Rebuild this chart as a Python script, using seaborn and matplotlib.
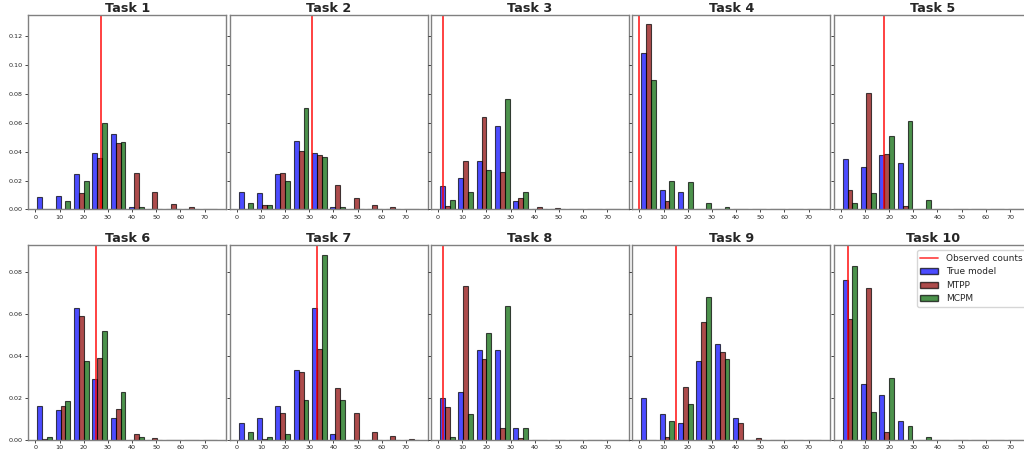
import numpy as np
import pandas as pd
import seaborn as sns
import matplotlib.pyplot as plt
from matplotlib.lines import Line2D
from matplotlib.patches import Patch
from matplotlib.ticker import MultipleLocator

# DATA
# Histogram of simulated counts per task: 10 bins over 0..76
bin_edges = np.linspace(0, 76, 11)
bin_centers = (bin_edges[:-1] + bin_edges[1:]) / 2

tasks = ['Task %d' % i for i in range(1, 11)]
models = ['True model', 'MTPP', 'MCPM']
colors = ['blue', 'darkred', 'darkgreen']

# observed counts (red line) per task
observed = [27, 31, 2, 0, 18, 25, 33, 2, 15, 3]

# density per bin, one list per task
true_model = [
    [0.0084, 0.0095, 0.0244, 0.0388, 0.0521, 0.0019, 0, 0, 0, 0],
    [0.0123, 0.0112, 0.0244, 0.0470, 0.0388, 0.0019, 0, 0, 0, 0],
    [0.0165, 0.0214, 0.0335, 0.0574, 0.0056, 0, 0, 0, 0, 0],
    [0.1080, 0.0135, 0.0123, 0, 0, 0, 0, 0, 0, 0],
    [0.0347, 0.0293, 0.0377, 0.0323, 0, 0, 0, 0, 0, 0],
    [0.0160, 0.0144, 0.0627, 0.0292, 0.0106, 0, 0, 0, 0, 0],
    [0.0080, 0.0106, 0.0160, 0.0333, 0.0627, 0.0026, 0, 0, 0, 0],
    [0.0202, 0.0228, 0.0426, 0.0426, 0.0055, 0, 0, 0, 0, 0],
    [0.0202, 0.0122, 0.0080, 0.0374, 0.0455, 0.0106, 0, 0, 0, 0],
    [0.0761, 0.0268, 0.0213, 0.0091, 0, 0, 0, 0, 0, 0],
]
mtpp = [
    [0, 0.0005, 0.0112, 0.0356, 0.0456, 0.0251, 0.0123, 0.0035, 0.0014, 0.0005],
    [0.0005, 0.0028, 0.0249, 0.0405, 0.0374, 0.0167, 0.0081, 0.0030, 0.0014, 0.0005],
    [0.0021, 0.0333, 0.0642, 0.0258, 0.0077, 0.0014, 0.0012, 0.0005, 0, 0.0005],
    [0.1280, 0.0056, 0, 0, 0, 0, 0, 0, 0, 0],
    [0.0135, 0.0802, 0.0381, 0.0021, 0.0005, 0, 0, 0, 0, 0],
    [0.0003, 0.0160, 0.0592, 0.0390, 0.0149, 0.0029, 0.0008, 0.0002, 0, 0],
    [0, 0.0005, 0.0127, 0.0325, 0.0434, 0.0245, 0.0130, 0.0040, 0.0021, 0.0006],
    [0.0155, 0.0733, 0.0383, 0.0055, 0.0010, 0, 0, 0, 0, 0],
    [0, 0.0014, 0.0252, 0.0560, 0.0417, 0.0082, 0.0010, 0, 0, 0],
    [0.0576, 0.0723, 0.0038, 0, 0, 0, 0, 0, 0, 0],
]
mcpm = [
    [0, 0.0056, 0.0200, 0.0600, 0.0467, 0.0019, 0, 0, 0, 0],
    [0.0044, 0.0028, 0.0200, 0.0698, 0.0363, 0.0019, 0, 0, 0, 0],
    [0.0067, 0.0123, 0.0270, 0.0763, 0.0123, 0, 0, 0, 0, 0],
    [0.0898, 0.0200, 0.0188, 0.0044, 0.0019, 0, 0, 0, 0, 0],
    [0.0044, 0.0112, 0.0507, 0.0614, 0.0067, 0, 0, 0, 0, 0],
    [0.0014, 0.0186, 0.0374, 0.0520, 0.0226, 0.0014, 0, 0, 0, 0],
    [0.0040, 0.0014, 0.0026, 0.0188, 0.0882, 0.0188, 0, 0, 0, 0],
    [0.0014, 0.0122, 0.0507, 0.0640, 0.0055, 0, 0, 0, 0, 0],
    [0, 0.0091, 0.0173, 0.0680, 0.0386, 0, 0, 0, 0, 0],
    [0.0827, 0.0131, 0.0295, 0.0066, 0.0014, 0, 0, 0, 0, 0],
]

# VISUALIZATION
sns.set_style('ticks', {'axes.edgecolor': '0.5'})

# last column runs off the right edge, like the original
fig, axes = plt.subplots(2, 5, figsize=(10.24, 4.54), dpi=100, sharey='row')
fig.subplots_adjust(left=0.0276, right=1.0075, top=0.967, bottom=0.031,
                    wspace=0.0167, hspace=0.185)

# x range as matplotlib's hist would give it (bars span 0.1..9.9 bins, 5% margin)
bw = bin_edges[1] - bin_edges[0]
lo, hi = bin_edges[0] + 0.1 * bw, bin_edges[-1] - 0.1 * bw
pad = 0.05 * (hi - lo)

for i, ax in enumerate(axes.flat):
    df = pd.DataFrame({
        'count': np.tile(bin_centers, 3),
        'density': true_model[i] + mtpp[i] + mcpm[i],
        'model': np.repeat(models, len(bin_centers)),
    })
    sns.barplot(data=df, x='count', y='density', hue='model', hue_order=models,
                palette=colors, native_scale=True, errorbar=None, saturation=1,
                alpha=0.7, edgecolor='black', linewidth=0.8, legend=False, ax=ax)
    ax.axvline(observed[i], color='red', alpha=0.8, lw=1.3)

    ax.set_xlim(lo - pad, hi + pad)
    ax.set_title(tasks[i], fontsize=9.2, fontweight='bold', pad=2)
    ax.set_xlabel('')
    ax.set_ylabel('')
    ax.xaxis.set_major_locator(MultipleLocator(10))
    ax.yaxis.set_major_locator(MultipleLocator(0.02))
    ax.tick_params(labelsize=4.6, length=2.5, width=0.6, pad=1.5)
    for s in ax.spines.values():
        s.set_linewidth(1.0)

# legend in the last panel
handles = [Line2D([0], [0], color='red', alpha=0.7, lw=1.3)]
handles += [Patch(facecolor=c, edgecolor='black', alpha=0.7) for c in colors]
axes[1, 4].legend(handles, ['Observed counts'] + models, loc='upper left',
                  bbox_to_anchor=(0.42, 0.975), borderaxespad=0, fontsize=6.5)

plt.savefig('out.png')
